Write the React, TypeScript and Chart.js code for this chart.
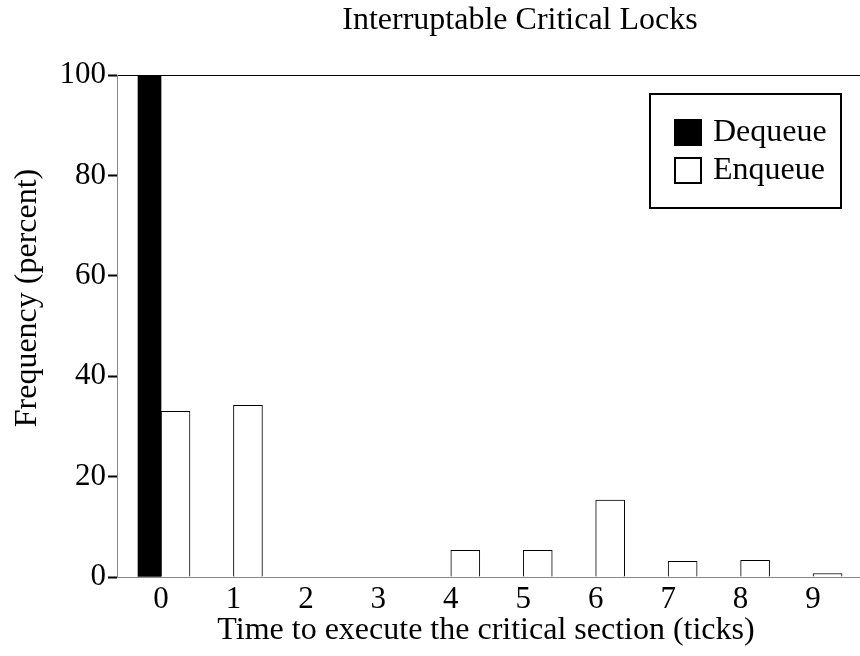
import React, { useEffect, useRef } from "react";
import { Chart, registerables } from "chart.js";

Chart.register(...registerables);

// ---- data ----
const TITLE = "Interruptable Critical Locks";
const X_TITLE = "Time to execute the critical section (ticks)";
const Y_TITLE = "Frequency (percent)";
const CATEGORIES = [0, 1, 2, 3, 4, 5, 6, 7, 8, 9];
const X_TICK_LABELS = ["0", "1", "2", "3", "4", "5", "6", "7", "8", "9"];
const Y_TICKS = [0, 20, 40, 60, 80, 100];
const SERIES_NAMES = ["Dequeue", "Enqueue"];
const DEQUEUE = [100, 0, 0, 0, 0, 0, 0, 0, 0, 0];
const ENQUEUE = [33, 34.2, 0, 0, 5.3, 5.3, 15.3, 3.1, 3.3, 0.7];

const FONT = "'Liberation Serif', 'Times New Roman', Times, serif";

const toPoints = (vals: number[]) =>
  CATEGORIES.map((c, i) => ({ x: c, y: vals[i] === 0 ? null : vals[i] }));

const decorPlugin = {
  id: "decor",
  afterDraw(chart: any) {
    const { ctx, chartArea } = chart;
    ctx.save();
    ctx.fillStyle = "#000";
    ctx.font = `32px ${FONT}`;
    ctx.textAlign = "center";
    ctx.textBaseline = "middle";
    // x-axis title
    ctx.fillText(X_TITLE, chartArea.left + 369, chartArea.bottom + 54);
    // y-axis title
    ctx.save();
    ctx.translate(28, chartArea.top + 223);
    ctx.rotate(-Math.PI / 2);
    ctx.fillText(Y_TITLE, 0, 0);
    ctx.restore();

    // legend box
    const bx = 650, by = 94, bw = 191, bh = 114;
    ctx.lineWidth = 2;
    ctx.strokeStyle = "#000";
    ctx.fillStyle = "#fff";
    ctx.fillRect(bx, by, bw, bh);
    ctx.strokeRect(bx, by, bw, bh);
    const rows = [132.5, 170.5];
    chart.data.datasets.forEach((ds: any, i: number) => {
      const cy = rows[i];
      const sx = 674, sy = Math.round(cy - 13.5), sw = 28, sh = 27;
      ctx.fillStyle = ds.backgroundColor;
      ctx.fillRect(sx, sy, sw, sh);
      if (ds.borderWidth && ds.borderWidth > 0) {
        ctx.lineWidth = 2;
        ctx.strokeStyle = ds.borderColor;
        ctx.strokeRect(sx + 1, sy + 1, sw - 2, sh - 2);
      }
      ctx.fillStyle = "#000";
      ctx.textAlign = "left";
      ctx.textBaseline = "middle";
      ctx.font = `32px ${FONT}`;
      ctx.fillText(ds.label, 713, cy);
    });
    ctx.restore();
  },
};

export default function App() {
  const ref = useRef<HTMLCanvasElement | null>(null);

  useEffect(() => {
    if (!ref.current) return;
    const chart = new Chart(ref.current, {
      type: "bar",
      data: {
        datasets: [
          {
            label: SERIES_NAMES[0],
            data: toPoints(DEQUEUE) as any,
            backgroundColor: "#000",
            borderWidth: 0,
            barThickness: 23,
          },
          {
            label: SERIES_NAMES[1],
            data: toPoints(ENQUEUE) as any,
            backgroundColor: "#fff",
            borderColor: "#000",
            borderWidth: 1,
            barThickness: 29,
          },
        ],
      },
      options: {
        animation: false,
        responsive: false,
        devicePixelRatio: 1,
        layout: { padding: { left: 0, right: 0, top: 0, bottom: 0 } },
        plugins: {
          legend: { display: false },
          tooltip: { enabled: false },
          title: {
            display: true,
            text: TITLE,
            color: "#000",
            font: { family: FONT, size: 32, weight: "normal", lineHeight: 1.2 },
            padding: { top: 1, bottom: 35.6 },
          },
        },
        scales: {
          x: {
            type: "linear",
            offset: false,
            min: -0.6073,
            max: 12.1325,
            afterBuildTicks: (s: any) => {
              s.ticks = CATEGORIES.map((v) => ({ value: v }));
            },
            afterFit: (s: any) => {
              s.height = 79;
            },
            grid: {
              display: true,
              offset: false,
              drawOnChartArea: false,
              drawTicks: false,
            },
            border: { display: true, color: "#888", width: 1 },
            ticks: {
              color: "#000",
              padding: 7,
              maxRotation: 0,
              autoSkip: false,
              font: { family: FONT, size: 31, lineHeight: 1 },
              callback: (v: any) => {
                const i = CATEGORIES.indexOf(Number(v));
                return i >= 0 ? X_TICK_LABELS[i] : "";
              },
            },
          },
          y: {
            type: "linear",
            min: 0,
            max: 100,
            afterBuildTicks: (s: any) => {
              s.ticks = Y_TICKS.map((v) => ({ value: v }));
            },
            afterFit: (s: any) => {
              s.width = 117;
            },
            grid: {
              display: true,
              drawOnChartArea: true,
              drawTicks: true,
              color: (c: any) =>
                c.tick && c.tick.value === 100 ? "#000" : "rgba(0,0,0,0)",
              lineWidth: 1,
              tickColor: "#000",
              tickWidth: 2,
              tickLength: 9,
            },
            border: { display: true, color: "#888", width: 1 },
            ticks: {
              color: "#000",
              padding: 2,
              font: { family: FONT, size: 31, lineHeight: 1 },
            },
          },
        },
      },
      plugins: [decorPlugin],
    });
    return () => chart.destroy();
  }, []);

  return (
    <div
      style={{
        position: "absolute",
        left: 0,
        top: 0,
        width: 860,
        height: 656,
        overflow: "hidden",
        background: "#fff",
      }}
    >
      <canvas ref={ref} width={1040} height={656} style={{ display: "block" }} />
    </div>
  );
}
